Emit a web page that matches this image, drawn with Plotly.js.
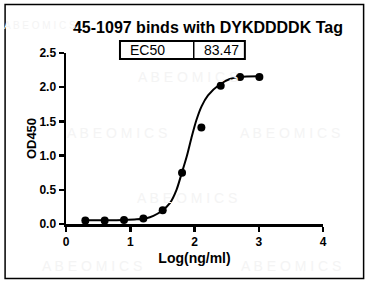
<!DOCTYPE html>
<html>
<head>
<meta charset="utf-8">
<script src="https://cdn.plot.ly/plotly-3.0.1.min.js"></script>
<style>
html,body{margin:0;padding:0;background:#fff;}
#chart{width:370px;height:284px;}
</style>
</head>
<body>
<div id="chart"></div>
<script>
// Measured points: log10 concentration (ng/ml) vs OD450
const logConc = [0.301, 0.602, 0.903, 1.204, 1.505, 1.806, 2.107, 2.408, 2.709, 3.010];
const od450 = [0.05, 0.05, 0.06, 0.08, 0.20, 0.75, 1.41, 2.02, 2.15, 2.15];

// Fitted curve
const fitX = [0.30, 0.60, 0.90, 1.10, 1.25, 1.36, 1.49, 1.62, 1.72, 1.80, 1.88, 1.95, 2.03, 2.11, 2.21, 2.39, 2.55, 2.70, 3.01];
const fitY = [0.055, 0.056, 0.060, 0.068, 0.085, 0.12, 0.19, 0.31, 0.50, 0.74, 0.99, 1.25, 1.52, 1.72, 1.88, 2.04, 2.12, 2.15, 2.16];

// Axis ticks
const xTicks = [0, 1, 2, 3, 4];
const xTickText = ['0', '1', '2', '3', '4'];
const yTicks = [0, 0.5, 1.0, 1.5, 2.0, 2.5];
const yTickText = ['0.0', '0.5', '1.0', '1.5', '2.0', '2.5'];

// Texts
const chartTitle = '45-1097 binds with DYKDDDDK Tag';
const xTitle = 'Log(ng/ml)';
const yTitle = 'OD450';
const ec50Label = 'EC50';
const ec50Value = '83.47';
const watermark = 'A B E O M I C S';

const font = 'Arial, "Liberation Sans", Helvetica, sans-serif';
const bold = s => '<b>' + s + '</b>';

const traces = [
  {
    x: fitX, y: fitY, type: 'scatter', mode: 'lines',
    line: {color: '#000', width: 2, shape: 'spline', smoothing: 0.9},
    hoverinfo: 'skip', showlegend: false
  },
  {
    x: logConc, y: od450, type: 'scatter', mode: 'markers',
    marker: {color: '#000', size: 8},
    showlegend: false
  }
];

// watermark placements [x, y, size] in paper units
const wmPos = [
  [-0.10, 1.163, 10], [0.474, 0.86, 14], [0.20, 0.533, 14], [0.871, 0.533, 14],
  [0.470, 0.154, 14], [0.10, -0.245, 14], [0.874, -0.245, 14]
];
const annotations = wmPos.map(p => ({
  xref: 'paper', yref: 'paper', x: p[0], y: p[1],
  text: watermark, showarrow: false,
  font: {family: font, size: p[2], color: '#f4f4f4'},
  xanchor: 'center', yanchor: 'middle'
}));
annotations.push(
  {xref: 'paper', yref: 'paper', x: 0.241, y: 1.0175, text: ec50Label, showarrow: false,
   xanchor: 'left', yanchor: 'middle', font: {family: font, size: 14, color: '#000'}},
  {xref: 'paper', yref: 'paper', x: 0.529, y: 1.0175, text: ec50Value, showarrow: false,
   xanchor: 'left', yanchor: 'middle', font: {family: font, size: 14, color: '#000'}}
);

const layout = {
  width: 370, height: 284,
  margin: {l: 66, r: 47, t: 53, b: 60, pad: 0},
  paper_bgcolor: '#fff', plot_bgcolor: '#fff',
  font: {family: font, color: '#000'},
  title: {
    text: bold(chartTitle),
    font: {family: font, size: 16, color: '#000'},
    xref: 'container', yref: 'container',
    x: 0.562, y: 0.905, xanchor: 'center', yanchor: 'middle'
  },
  xaxis: {
    range: [0, 4], tickvals: xTicks, ticktext: xTickText.map(bold),
    showgrid: false, zeroline: false,
    showline: true, linecolor: '#000', linewidth: 2.5,
    ticks: 'outside', ticklen: 5, tickwidth: 2.5, tickcolor: '#000',
    tickfont: {family: font, size: 12, color: '#000'},
    title: {text: bold(xTitle), font: {family: font, size: 14, color: '#000'}, standoff: 6},
    automargin: false
  },
  yaxis: {
    range: [0, 2.5], tickvals: yTicks, ticktext: yTickText.map(bold),
    showgrid: false, zeroline: false,
    showline: true, linecolor: '#000', linewidth: 2.5,
    ticks: 'outside', ticklen: 5, tickwidth: 2.5, tickcolor: '#000',
    tickfont: {family: font, size: 12, color: '#000'},
    title: {text: bold(yTitle), font: {family: font, size: 13, color: '#000'}, standoff: 0},
    automargin: false
  },
  shapes: [
    {type: 'rect', xref: 'paper', yref: 'paper', x0: 0.210, x1: 0.696, y0: 0.965, y1: 1.070,
     line: {color: '#000', width: 2}, fillcolor: 'rgba(0,0,0,0)'},
    {type: 'line', xref: 'paper', yref: 'paper', x0: 0.497, x1: 0.497, y0: 0.965, y1: 1.070,
     line: {color: '#000', width: 1.5}},
    {type: 'rect', xref: 'paper', yref: 'paper', x0: -0.237, x1: 1.158, y0: -0.319, y1: 1.283,
     line: {color: '#000', width: 1.5}, fillcolor: 'rgba(0,0,0,0)'}
  ],
  annotations: annotations
};

Plotly.newPlot('chart', traces, layout, {displayModeBar: false, staticPlot: true});
</script>
</body>
</html>
